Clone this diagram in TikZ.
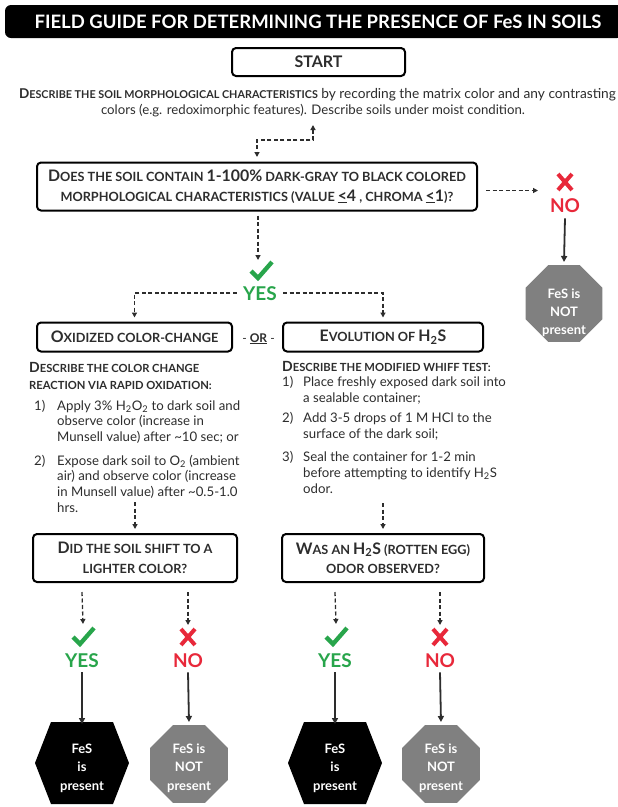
\documentclass[tikz,border=0pt]{standalone}
\usepackage{fontspec}
\setmainfont{Lato}
\usetikzlibrary{shapes.geometric,arrows.meta}
\definecolor{okgreen}{RGB}{40,165,75}
\definecolor{nored}{RGB}{232,40,58}
\definecolor{octgray}{RGB}{128,128,128}
\definecolor{txt}{RGB}{45,45,45}
\makeatletter
\newcommand\B[1]{{\fontsize{\fpeval{\f@size*1.25}}{\f@baselineskip}\selectfont #1}}
\makeatother
\begin{document}
\begin{tikzpicture}[x=1pt,y=-1pt,
  box/.style={draw=black,line width=2pt,rounded corners=4pt,inner sep=0pt,align=center,text=txt,
    font=\fontsize{12.7}{19.5}\selectfont\bfseries},
  hd/.style={anchor=base west,inner sep=0pt,align=left,text=txt,font=\fontsize{11.2}{17}\selectfont\bfseries},
  body/.style={anchor=base west,inner sep=0pt,align=left,text=txt,font=\fontsize{13.2}{15.8}\selectfont},
  bodyr/.style={body,font=\fontsize{13.2}{16}\selectfont},
  darr/.style={draw=txt,line width=1.3pt,dash pattern=on 4pt off 2.5pt,-{Triangle[length=5pt,width=5pt]}},
  sarr/.style={draw=txt,line width=1.8pt,-{Triangle[length=6pt,width=6pt]}},
  yes/.style={text=okgreen,font=\fontsize{19}{19}\selectfont\bfseries,inner sep=0pt,anchor=base},
  no/.style={text=nored,font=\fontsize{19}{19}\selectfont\bfseries,inner sep=0pt,anchor=base},
  oct/.style={regular polygon,regular polygon sides=8,fill=octgray,minimum size=84pt,inner sep=0pt},
  octtxt/.style={text=white,font=\fontsize{13}{18.5}\selectfont\bfseries,align=center,inner sep=0pt,anchor=base},
  chk/.style={draw=okgreen,line width=4.3pt},
  xmk/.style={draw=nored,line width=4pt},
]
\useasboundingbox (0,0) rectangle (618,807);
\fill[white] (0,0) rectangle (618,807);

% title
\node[fill=black,rounded corners=6pt,minimum width=618pt,minimum height=33pt,inner sep=0pt] (titlebar) at (314,21.5) {};
\node[text=white,font=\fontsize{18.5}{18.5}\selectfont\bfseries,anchor=base,inner sep=0pt] (title) at (318,28)
  {FIELD GUIDE FOR DETERMINING THE PRESENCE OF FeS IN SOILS};

% start
\node[box,minimum width=173pt,minimum height=28pt,font=\fontsize{16}{16}\selectfont\bfseries] (start) at (318.5,62) {START};

\node[anchor=base,inner sep=0pt,text=txt,font=\fontsize{13.7}{13.7}\selectfont] (desc1) at (317.5,98)
  {{\bfseries\fontsize{10.8}{10.8}\selectfont \B{D}ESCRIBE THE SOIL MORPHOLOGICAL CHARACTERISTICS} by recording the matrix color and any contrasting};
\node[anchor=base,inner sep=0pt,text=txt,font=\fontsize{13.2}{13.2}\selectfont] (desc2) at (313,114)
  {colors (e.g. redoximorphic features). Describe soils under moist condition.};

\coordinate (c1) at (313,125);
\coordinate (c2) at (257,157);
\draw[darr,{Triangle[length=5pt,width=5pt]}-{Triangle[length=5pt,width=5pt]}] (c1) -- ++(0,15) -| (c2);

% question 1
\node[box,minimum width=440pt,minimum height=48pt] (q1) at (257,186.5)
  {\B{D}OES THE SOIL CONTAIN \B{1-100\%} DARK-GRAY TO BLACK COLORED\\
   MORPHOLOGICAL CHARACTERISTICS (VALUE \B{\underline{<}4} , CHROMA \B{\underline{<}1})?};

% NO branch top right
\coordinate (x0) at (565,182);
\draw[xmk] ([shift={(-7,-8)}]x0) -- ([shift={(7,8)}]x0) ([shift={(-7,8)}]x0) -- ([shift={(7,-8)}]x0);
\node[no] (no0) at (565,212) {NO};
\coordinate (ae) at ([xshift=-27pt]x0);
\coordinate (as) at ([xshift=8pt,yshift=-4pt]q1.east);
\draw[darr] (as) -- (as -| ae);
\node[oct,minimum size=83pt] (oct0) at (564,303.5) {};
\node[octtxt,font=\fontsize{13}{18}\selectfont\bfseries] (oct0t) at (564,334) {FeS is\\NOT\\present};
\draw[sarr] ([yshift=-6pt]no0.south) -- ([yshift=3pt]oct0.north);

% YES
\coordinate (ch0) at (261,271);
\draw[chk] ([shift={(-10,0)}]ch0) -- ([shift={(-3,7)}]ch0) -- ([shift={(11,-9)}]ch0);
\node[yes] (yes0) at (260,300) {YES};
\coordinate (q1b) at ([xshift=-3pt,yshift=-4pt]q1.south -| ch0);
\draw[darr] (q1b) -- ([shift={(-3,-11)}]ch0);

% two method boxes
\node[box,minimum width=195pt,minimum height=29pt] (ox) at (134.5,337) {\B{O}XIDIZED COLOR-CHANGE};
\node[box,minimum width=200pt,minimum height=29pt] (ev) at (383,337) {\B{E}VOLUTION OF \B{H\textsubscript{2}S}};
\node[anchor=base,inner sep=0pt,text=txt,font=\fontsize{12}{12}\selectfont] (or) at (258.5,342) {- \textbf{\underline{OR}} -};
\draw[darr] ([xshift=-6pt]yes0.west) -| ([yshift=4pt]ox.north);
\draw[darr] ([xshift=6pt]yes0.east) -| ([yshift=4pt]ev.north);

% left description (base anchor = last line)
\node[hd] (lh) at (29,389) {\B{D}ESCRIBE THE COLOR CHANGE\\REACTION VIA RAPID OXIDATION:};
\node[body] (l1n) at (34,410) {1)};
\node[body] (l1) at (57,441.6) {Apply 3\% H\textsubscript{2}O\textsubscript{2} to dark soil and\\observe color (increase in\\Munsell value) after \textasciitilde10 sec; or};
\node[body] (l2n) at (34,465) {2)};
\node[body] (l2) at (57,512.4) {Expose dark soil to O\textsubscript{2} (ambient\\air) and observe color (increase\\in Munsell value) after \textasciitilde0.5-1.0\\hrs.};

% right description
\node[hd] (rh) at (282,371) {\B{D}ESCRIBE THE MODIFIED WHIFF TEST:};
\node[bodyr] (r1n) at (282,386) {1)};
\node[bodyr] (r1) at (303,402) {Place freshly exposed dark soil into\\a sealable container;};
\node[bodyr] (r2n) at (282,422) {2)};
\node[bodyr] (r2) at (303,438) {Add 3-5 drops of 1 M HCl to the\\surface of the dark soil;};
\node[bodyr] (r3n) at (282,461) {3)};
\node[bodyr] (r3) at (303,493) {Seal the container for 1-2 min\\before attempting to identify H\textsubscript{2}S\\odor.};

% second questions
\node[box,minimum width=204pt,minimum height=48pt] (dd) at (135,558) {\B{D}ID THE SOIL SHIFT TO A\\LIGHTER COLOR?};
\node[box,minimum width=202pt,minimum height=48pt] (wa) at (383,558) {\B{W}AS AN \B{H\textsubscript{2}S} (ROTTEN EGG)\\ODOR OBSERVED?};
\draw[darr] ([yshift=31pt]dd.north) -- ([yshift=4pt]dd.north);
\draw[darr] ([yshift=30pt]wa.north) -- ([yshift=4pt]wa.north);

% outcomes
\foreach \nm/\xx/\src in {a/82/dd,c/335/wa}{
  \coordinate (ck\nm) at (\xx+1,637);
  \draw[chk] ([shift={(-10,0)}]ck\nm) -- ([shift={(-3,7)}]ck\nm) -- ([shift={(11,-9)}]ck\nm);
  \node[yes] (y\nm) at (\xx,667) {YES};
  \coordinate (sa\nm) at ([yshift=-9pt]\src.south -| y\nm);
  \draw[darr] (sa\nm) -- ([yshift=13pt]ck\nm);
  \coordinate (hx\nm) at (\xx,763);
  \fill[black] ([shift={(-31,-41)}]hx\nm) -- ([shift={(31,-41)}]hx\nm) -- ([shift={(47,0)}]hx\nm)
     -- ([shift={(31,41)}]hx\nm) -- ([shift={(-31,41)}]hx\nm) -- ([shift={(-47,0)}]hx\nm) -- cycle;
  \node[octtxt] (hxt\nm) at (\xx,790) {FeS\\is\\present};
  \draw[sarr] ([yshift=-5pt]y\nm.south) -- ([shift={(0,-39)}]hx\nm);
}
\foreach \nm/\xx/\src in {b/188/dd,d/440/wa}{
  \coordinate (xk\nm) at (\xx,637);
  \draw[xmk] ([shift={(-7,-8)}]xk\nm) -- ([shift={(7,8)}]xk\nm) ([shift={(-7,8)}]xk\nm) -- ([shift={(7,-8)}]xk\nm);
  \node[no] (n\nm) at (\xx,667) {NO};
  \coordinate (sa\nm) at ([yshift=-9pt]\src.south -| n\nm);
  \draw[darr] (sa\nm) -- ([yshift=12pt]xk\nm);
  \node[oct] (oc\nm) at (\xx+1,764) {};
  \node[octtxt] (oct\nm) at (\xx+1,790) {FeS is\\NOT\\present};
  \draw[sarr] ([yshift=-5pt]n\nm.south) -- ([yshift=3pt]oc\nm.north);
}
\end{tikzpicture}
\end{document}
